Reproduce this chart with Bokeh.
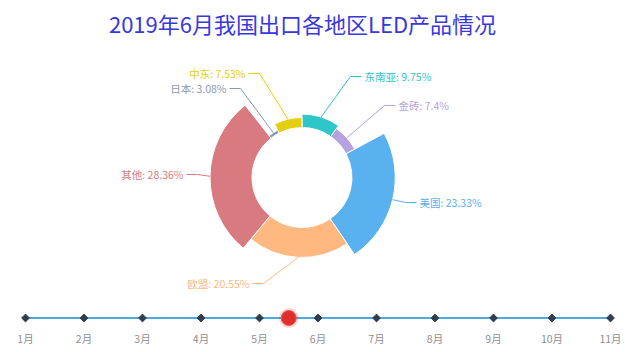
import math
from bokeh.plotting import figure
from bokeh.models import Range1d, ColumnDataSource
from bokeh.core.properties import value
from bokeh.embed import file_html
from bokeh.resources import INLINE

# ---------------- data ----------------
title_text = "2019年6月我国出口各地区LED产品情况"
names = ["东南亚", "金砖", "美国", "欧盟", "其他", "日本", "中东"]
values = [9.75, 7.4, 23.33, 20.55, 28.36, 3.08, 7.53]
colors = ["#2ec7c9", "#b6a2de", "#5ab1ef", "#ffb980", "#d87a80", "#8d98b3", "#e5cf0d"]
months = ["1月", "2月", "3月", "4月", "5月", "6月", "7月", "8月", "9月", "10月", "11月"]
timeline_current = 5.5   # play marker between 5月 and 6月
highlighted = "美国"

# ---------------- layout constants ----------------
W, H = 625, 352
FONT = "Noto Sans CJK SC"
cx, cy = 301.5, 177.0          # pixel coords (y down)
inner_r = 50.0
rose_lo, rose_hi = 48.5, 92.0  # radius range for value 0..max (roseType radius)
hover_offset = 9.0

# label layout: (text y, elbow x) in pixels, side derived from angle
label_y = {"东南亚": 76, "金砖": 105, "美国": 202, "欧盟": 283, "其他": 174, "日本": 88, "中东": 73}
label_elbow_x = {"东南亚": 350, "金砖": 384, "美国": 405, "欧盟": 263, "其他": 197, "日本": 240, "中东": 259}
len2 = 11
gap = 3

tl_x0, tl_step, tl_y = 25.0, 58.5, 317.5
tl_label_y = 337.5


def Y(py):
    return H - py


p = figure(width=W, height=H, x_range=Range1d(0, W), y_range=Range1d(0, H),
           output_backend="svg", toolbar_location=None, min_border=0)
p.axis.visible = False
p.grid.visible = False
p.outline_line_color = None
p.background_fill_color = "white"
p.border_fill_color = "white"

# ---------------- pie (rose) ----------------
total = sum(values)
vmax = max(values)
starts, ends, outers, mids = [], [], [], []
acc = 0.0
for n, v in zip(names, values):
    t0 = acc / total * 360.0
    acc += v
    t1 = acc / total * 360.0
    r = rose_lo + (rose_hi - rose_lo) * v / vmax
    if n == highlighted:
        r += hover_offset
    starts.append(math.radians(90 - t1))
    ends.append(math.radians(90 - t0))
    outers.append(r)
    mids.append((t0 + t1) / 2)

src = ColumnDataSource(dict(x=[cx] * len(names), y=[Y(cy)] * len(names),
                            inner=[inner_r] * len(names), outer=outers,
                            start=starts, end=ends, color=colors))
p.annular_wedge(x="x", y="y", inner_radius="inner", outer_radius="outer",
                start_angle="start", end_angle="end", fill_color="color",
                line_color="white", line_width=1, source=src)

# ---------------- labels ----------------
for n, v, c, r, m in zip(names, values, colors, outers, mids):
    a = math.radians(m)
    ex = cx + r * math.sin(a)
    ey = cy - r * math.cos(a)
    right = math.sin(a) >= 0
    ly = label_y[n]
    bx = label_elbow_x[n]
    hx = bx + (len2 if right else -len2)
    p.line([ex, bx, hx], [Y(ey), Y(ly), Y(ly)], line_color=c, line_width=1)
    tx = hx + (gap if right else -gap)
    txt = f"{n}: {v:g}%"
    p.text(x=[tx], y=[Y(ly)], text=[txt], text_color=c,
           text_font=value(FONT), text_font_size=value("10.5px"),
           text_align="left" if right else "right", text_baseline="middle")

# ---------------- title ----------------
p.text(x=[302], y=[Y(22)], text=[title_text], text_color="#3838dc",
       text_font=value(FONT), text_font_size=value("22px"),
       text_align="center", text_baseline="middle")

# ---------------- timeline ----------------
mx = [tl_x0 + i * tl_step for i in range(len(months))]
p.line([mx[0], mx[-1]], [Y(tl_y), Y(tl_y)], line_color="#4ea9dd", line_width=2)
p.scatter(mx, [Y(tl_y)] * len(mx), marker="square", angle=math.radians(45),
          size=5.5, fill_color="#2f3e4e", line_color="#2f3e4e")
p.text(x=mx, y=[Y(tl_label_y)] * len(mx), text=months, text_color="#8f8f8f",
       text_font=value(FONT), text_font_size=value("10.5px"),
       text_align="center", text_baseline="middle")
cur_x = tl_x0 + (timeline_current - 1) * tl_step
p.scatter([cur_x], [Y(tl_y)], size=20, fill_color="#e0302c", fill_alpha=0.18, line_color=None)
p.scatter([cur_x], [Y(tl_y)], size=15, fill_color="#df2f2b", line_color="#e85a55", line_width=1)

open("out.html", "w").write(file_html(p, INLINE))
